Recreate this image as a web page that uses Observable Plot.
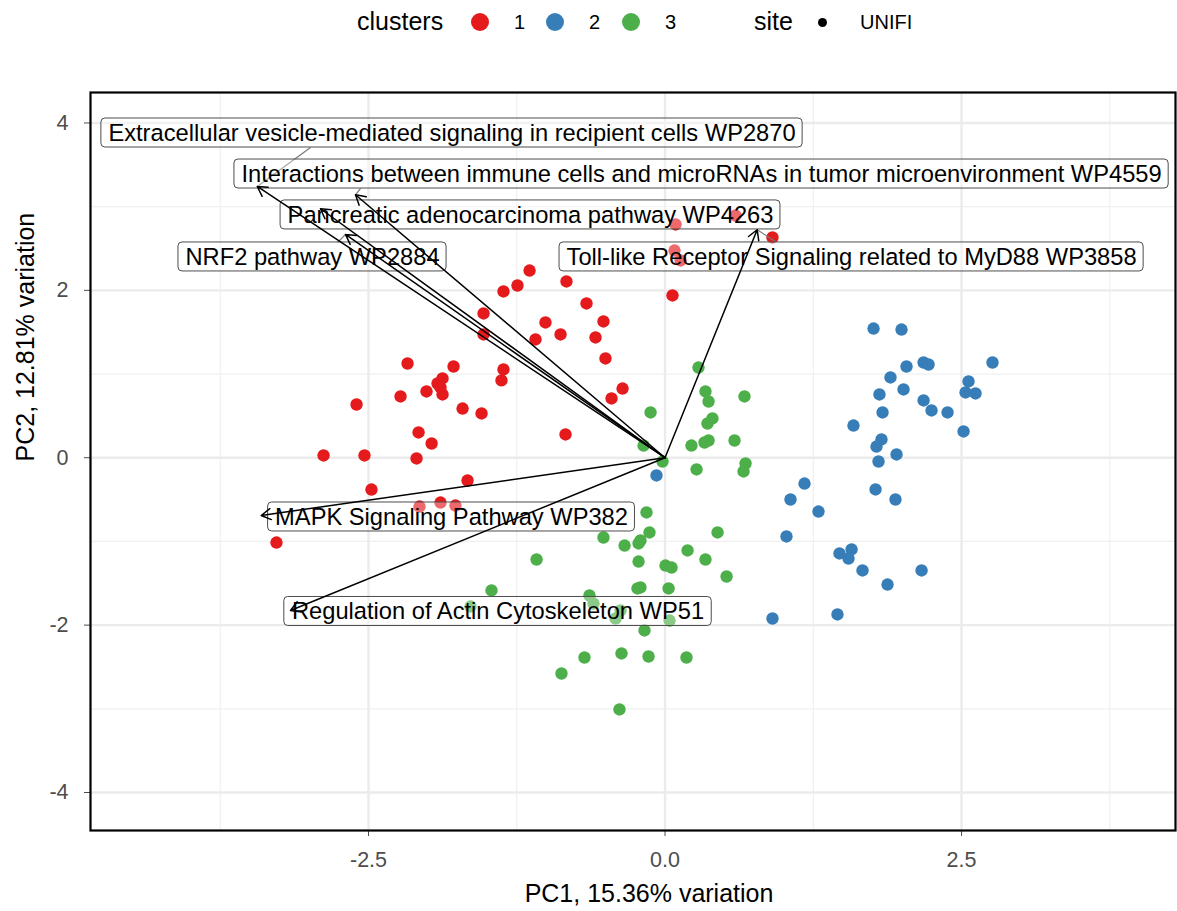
<!DOCTYPE html>
<html><head><meta charset="utf-8">
<script src="https://cdn.jsdelivr.net/npm/d3@7"></script>
<script src="https://cdn.jsdelivr.net/npm/@observablehq/plot@0.6"></script>
<style>
body{margin:0;background:#fff;font-family:"Liberation Sans",Arial,Helvetica,sans-serif;}
#legend{position:relative;height:50px;width:1177px;}
#legend .t{position:absolute;line-height:1;white-space:nowrap;color:#000;}
#legend .sw{position:absolute;border-radius:50%;}
#chart svg{display:block}
</style></head><body>
<div id="legend"></div><div id="chart"></div>
<script>
// ---------- data ----------
const clusterNames = ["1", "2", "3"];
const clusterColors = ["#E41A1C", "#377EB8", "#4DAF4A"];
const siteNames = ["UNIFI"];

const c1X = [0.089,0.594,0.906,0.080,0.131,0.063,-1.142,-1.244,-1.362,-0.831,-0.662,-1.008,-0.519,-0.881,-0.586,-1.092,-0.502,-1.530,-1.530,-1.362,-1.379,-0.358,-0.451,-0.839,-2.171,-1.783,-1.876,-1.918,-1.893,-1.876,-2.011,-2.230,-2.601,-1.707,-1.547,-2.078,-1.968,-2.879,-2.534,-2.095,-1.665,-2.475,-2.070,-1.893,-1.767,-3.276];
const c1Y = [2.787,2.894,2.632,2.476,2.357,1.939,2.237,2.058,1.987,2.106,1.843,1.616,1.628,1.473,1.437,1.413,1.186,1.724,1.473,1.055,0.924,0.827,0.708,0.278,1.126,1.090,0.947,0.887,0.840,0.756,0.792,0.732,0.636,0.588,0.529,0.302,0.170,0.027,0.027,-0.009,-0.272,-0.380,-0.583,-0.535,-0.571,-1.013];

const c2X = [1.758,1.994,2.761,2.180,2.222,2.036,1.901,2.559,2.534,2.618,1.808,2.011,2.180,2.247,2.382,1.834,1.589,2.517,1.825,1.783,1.952,1.800,1.176,1.058,1.775,1.943,1.294,1.024,1.471,1.573,1.547,1.665,2.163,1.876,0.906,1.454,-0.072];
const c2Y = [1.544,1.532,1.138,1.138,1.114,1.090,0.959,0.911,0.780,0.768,0.756,0.816,0.684,0.565,0.541,0.541,0.385,0.314,0.218,0.134,0.039,-0.045,-0.308,-0.499,-0.379,-0.499,-0.643,-0.941,-1.144,-1.096,-1.204,-1.347,-1.347,-1.515,-1.921,-1.873,-0.212];

const c3X = [0.282,0.341,0.367,0.670,0.400,0.358,-0.122,0.223,0.333,0.367,0.586,-0.181,-0.021,0.266,0.679,0.662,-0.156,-0.131,-0.519,-0.341,-0.207,-0.223,0.443,0.190,0.341,-1.083,-0.223,0.004,0.055,0.519,-1.463,-0.207,-0.232,0.030,-0.637,-0.603,-1.640,-0.417,-0.375,0.038,-0.173,-0.679,-0.367,-0.139,0.181,-0.873,-0.384];
const c3Y = [1.078,0.792,0.672,0.732,0.469,0.409,0.541,0.146,0.182,0.206,0.206,0.146,-0.045,-0.140,-0.069,-0.164,-0.654,-0.893,-0.953,-1.049,-0.989,-1.024,-0.893,-1.108,-1.216,-1.216,-1.240,-1.288,-1.312,-1.419,-1.586,-1.550,-1.562,-1.562,-1.646,-1.742,-1.778,-1.921,-1.825,-1.945,-2.064,-2.387,-2.339,-2.375,-2.387,-2.578,-3.008];

// loadings (arrow tips)
const pathwayNames = [
  "Extracellular vesicle-mediated signaling in recipient cells WP2870",
  "Interactions between immune cells and microRNAs in tumor microenvironment WP4559",
  "Pancreatic adenocarcinoma pathway WP4263",
  "NRF2 pathway WP2884",
  "Toll-like Receptor Signaling related to MyD88 WP3858",
  "MAPK Signaling Pathway WP382",
  "Regulation of Actin Cytoskeleton WP51"
];
const loadX = [-3.438, -2.610, -2.905, -2.694, 0.777, -3.405, -3.158];
const loadY = [3.241, 3.142, 2.975, 2.668, 2.724, -0.690, -1.825];
// repelled label centres
const labelX = [-1.796, 0.308, -1.134, -2.972, 1.573, -1.800, -1.408];
const labelY = [3.880, 3.390, 2.901, 2.399, 2.399, -0.708, -1.837];
// connector segment starts (null = no connector)
const segStartX = [-2.989, -2.567, null, -2.761, 0.932, null, null];
const segStartY = [3.707, 3.217, null, 2.572, 2.583, null, null];

const xMajor = [-2.5, 0, 2.5];
const xMinor = [-3.75, -1.25, 1.25, 3.75];
const yMajor = [-4, -2, 0, 2, 4];
const yMinor = [-3, -1, 1, 3];
const xDomain = [-4.844, 4.304];
const yDomain = [-4.454, 4.364];
const xTitle = "PC1, 15.36% variation";
const yTitle = "PC2, 12.81% variation";

// ---------- build ----------
const FONT = '"Liberation Sans", Arial, Helvetica, sans-serif';
const W = 1177, H = 861, mL = 90, mR = 2, mT = 42, mB = 81;
const kx = (W - mL - mR) / (xDomain[1] - xDomain[0]);
const ky = (H - mT - mB) / (yDomain[1] - yDomain[0]);

const points = [];
[[c1X, c1Y], [c2X, c2Y], [c3X, c3Y]].forEach(([xs, ys], k) => {
  xs.forEach((x, i) => points.push({x, y: ys[i], cluster: clusterNames[k], site: siteNames[0]}));
});

const labelSize = 23.7;
const ctx = document.createElement("canvas").getContext("2d");
ctx.font = `${labelSize}px ${FONT}`;
const labels = pathwayNames.map((name, i) => {
  const hw = ctx.measureText(name).width / 2 + 7;
  const hh = 14.5;
  return {name, x: labelX[i], y: labelY[i],
    x1: labelX[i] - hw / kx, x2: labelX[i] + hw / kx,
    y1: labelY[i] - hh / ky, y2: labelY[i] + hh / ky};
});
const arrows = pathwayNames.map((name, i) => ({name, x: loadX[i], y: loadY[i]}));
const segs = pathwayNames.map((name, i) => ({name, sx: segStartX[i], sy: segStartY[i], x: loadX[i], y: loadY[i]}))
  .filter(d => d.sx !== null);

const plot = Plot.plot({
  width: W, height: H,
  marginLeft: mL, marginRight: mR, marginTop: mT, marginBottom: mB,
  style: {fontFamily: FONT, background: "white", overflow: "visible"},
  x: {domain: xDomain, label: null},
  y: {domain: yDomain, label: null},
  color: {domain: clusterNames, range: clusterColors},
  marks: [
    Plot.ruleX(xMinor, {stroke: "#f0f0f0", strokeWidth: 1.2}),
    Plot.ruleY(yMinor, {stroke: "#f0f0f0", strokeWidth: 1.2}),
    Plot.ruleX(xMajor, {stroke: "#ebebeb", strokeWidth: 2.4}),
    Plot.ruleY(yMajor, {stroke: "#ebebeb", strokeWidth: 2.4}),
    Plot.dot(points, {x: "x", y: "y", fill: "cluster", r: 6.2, stroke: "none"}),
    Plot.link(segs, {x1: "sx", y1: "sy", x2: "x", y2: "y", stroke: "#7a7a7a", strokeWidth: 1.2}),
    Plot.rect(labels, {x1: "x1", x2: "x2", y1: "y1", y2: "y2", fill: "white", fillOpacity: 0.35, stroke: "#4d4d4d", strokeWidth: 1, rx: 4}),
    Plot.text(labels, {x: "x", y: "y", text: "name", fontSize: labelSize, fill: "black"}),
    Plot.arrow(arrows, {x1: d => 0, y1: d => 0, x2: "x", y2: "y", stroke: "black", strokeWidth: 1.5, headLength: 11, headAngle: 60, bend: 0}),
    Plot.axisX({ticks: xMajor, tickFormat: d => d.toFixed(1), tickSize: 6, tickPadding: 15, fontSize: 21.5, color: "#4d4d4d", label: null}),
    Plot.axisY({ticks: yMajor, tickFormat: d => String(d), tickSize: 6, tickPadding: 16, fontSize: 21.5, color: "#4d4d4d", label: null}),
    Plot.text([xTitle], {frameAnchor: "bottom", dy: 71, dx: 16, fontSize: 25, fill: "black"}),
    Plot.text([yTitle], {frameAnchor: "left", dx: -65, rotate: -90, fontSize: 25, fill: "black"}),
    Plot.frame({stroke: "black", strokeWidth: 2.2})
  ]
});
document.getElementById("chart").appendChild(plot);

// ---------- legend ----------
const lg = document.getElementById("legend");
function addText(txt, left, size) {
  const s = document.createElement("span");
  s.className = "t"; s.textContent = txt;
  s.style.left = left + "px"; s.style.fontSize = size + "px";
  s.style.top = (23 - size * 0.55) + "px";
  lg.appendChild(s);
}
function addSwatch(cx, r, color) {
  const d = document.createElement("div");
  d.className = "sw";
  d.style.left = (cx - r) + "px"; d.style.top = (22 - r) + "px";
  d.style.width = d.style.height = (2 * r) + "px";
  d.style.background = color;
  lg.appendChild(d);
}
addText("clusters", 357, 25);
const swX = [480, 555, 631];
clusterNames.forEach((c, i) => {
  addSwatch(swX[i], 9, clusterColors[i]);
  addText(c, swX[i] + 34, 20);
});
addText("site", 754, 25);
addSwatch(822, 4.5, "#000");
addText(siteNames[0], 860, 20);
</script>
</body></html>
